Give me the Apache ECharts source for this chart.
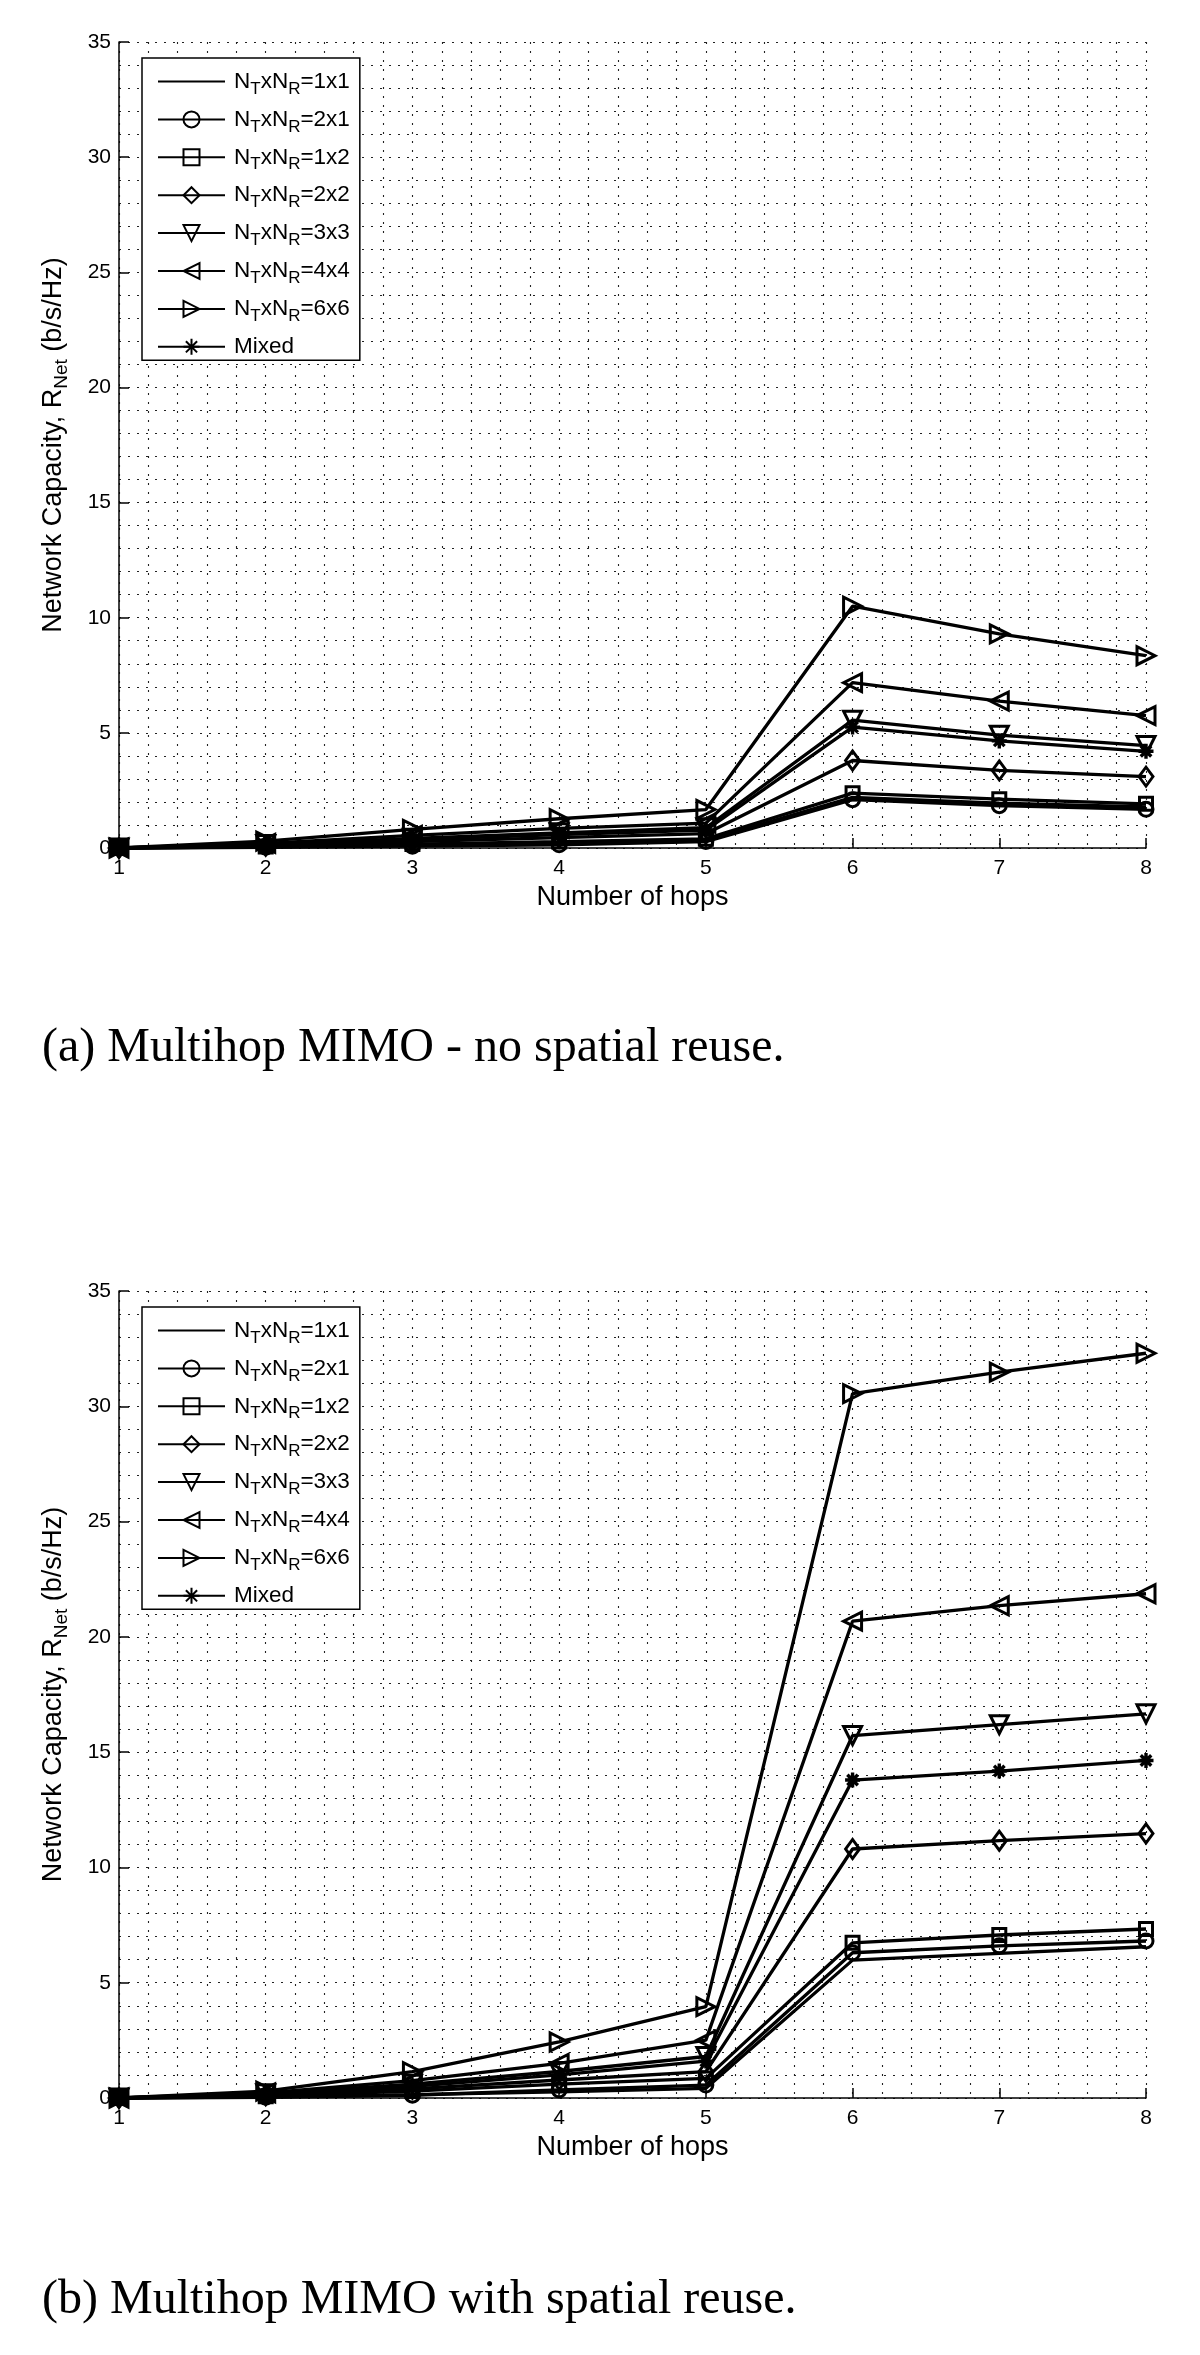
<!DOCTYPE html>
<html><head><meta charset="utf-8">
<script src="https://cdn.jsdelivr.net/npm/echarts@6/dist/echarts.min.js"></script>
<style>html,body{margin:0;padding:0;background:#fff}#c{width:1200px;height:2355px}</style>
</head><body><div id="c"></div>
<script>
// ---- data ----
const hops = [1, 2, 3, 4, 5, 6, 7, 8];
const configs = ['1x1', '2x1', '1x2', '2x2', '3x3', '4x4', '6x6', 'Mixed'];
const yTicks = [0, 5, 10, 15, 20, 25, 30, 35];

// (a) no spatial reuse
const noReuse1x1   = [0, 0.05, 0.13, 0.22, 0.32, 2.20, 1.95, 1.78];
const noReuse2x1   = [0, 0.03, 0.08, 0.14, 0.28, 2.10, 1.84, 1.68];
const noReuse1x2   = [0, 0.06, 0.17, 0.28, 0.40, 2.38, 2.12, 1.92];
const noReuse2x2   = [0, 0.10, 0.28, 0.45, 0.62, 3.80, 3.37, 3.10];
const noReuse3x3   = [0, 0.15, 0.42, 0.66, 0.88, 5.55, 4.90, 4.45];
const noReuse4x4   = [0, 0.20, 0.55, 0.85, 1.08, 7.18, 6.38, 5.75];
const noReuse6x6   = [0, 0.30, 0.81, 1.27, 1.67, 10.50, 9.30, 8.35];
const noReuseMixed = [0, 0.13, 0.37, 0.58, 0.78, 5.25, 4.65, 4.20];

// (b) with spatial reuse
const reuse1x1   = [0, 0.05, 0.15, 0.27, 0.42, 5.98, 6.27, 6.56];
const reuse2x1   = [0, 0.03, 0.12, 0.35, 0.56, 6.30, 6.60, 6.81];
const reuse1x2   = [0, 0.08, 0.30, 0.60, 0.85, 6.73, 7.07, 7.33];
const reuse2x2   = [0, 0.12, 0.40, 0.78, 1.14, 10.80, 11.16, 11.47];
const reuse3x3   = [0, 0.18, 0.60, 1.15, 1.80, 15.72, 16.19, 16.66];
const reuse4x4   = [0, 0.22, 0.75, 1.50, 2.51, 20.68, 21.35, 21.87];
const reuse6x6   = [0, 0.30, 1.14, 2.43, 3.96, 30.55, 31.48, 32.30];
const reuseMixed = [0, 0.15, 0.50, 1.00, 1.60, 13.79, 14.18, 14.64];

const captionA = '(a) Multihop MIMO - no spatial reuse.';
const captionB = '(b) Multihop MIMO with spatial reuse.';

// ---- styling ----
const SANS = 'Liberation Sans, Arial, Helvetica, sans-serif';
const SERIF = 'Liberation Serif, Times New Roman, serif';
const markers = {
  '1x1': {symbol: 'none', size: 0},
  '2x1': {symbol: 'circle', size: 14},
  '1x2': {symbol: 'rect', size: 13},
  '2x2': {symbol: 'diamond', size: [14, 19]},
  '3x3': {symbol: 'path://M0,0 L10,0 L5,9 Z', size: 18},
  '4x4': {symbol: 'path://M10,0 L10,10 L1,5 Z', size: 18},
  '6x6': {symbol: 'path://M0,0 L0,10 L9,5 Z', size: 18},
  'Mixed': {symbol: 'path://M5,0 L5,10 M0,5 L10,5 M1.5,1.5 L8.5,8.5 M8.5,1.5 L1.5,8.5', size: 15}
};
const dataA = {'1x1': noReuse1x1, '2x1': noReuse2x1, '1x2': noReuse1x2, '2x2': noReuse2x2,
  '3x3': noReuse3x3, '4x4': noReuse4x4, '6x6': noReuse6x6, 'Mixed': noReuseMixed};
const dataB = {'1x1': reuse1x1, '2x1': reuse2x1, '1x2': reuse1x2, '2x2': reuse2x2,
  '3x3': reuse3x3, '4x4': reuse4x4, '6x6': reuse6x6, 'Mixed': reuseMixed};

function mkSeries(dataMap, idx) {
  return configs.map(function (c) {
    const m = markers[c];
    let itemStyle;
    if (c === '1x1') itemStyle = {color: 'rgba(0,0,0,0)', borderColor: 'rgba(0,0,0,0)', borderWidth: 0};
    else if (c === 'Mixed') itemStyle = {color: '#000', borderColor: '#000', borderWidth: 3.4};
    else itemStyle = {color: 'rgba(255,255,255,0)', borderColor: '#000', borderWidth: 3};
    return {
      name: c, type: 'line', xAxisIndex: idx, yAxisIndex: idx,
      data: hops.map(function (h, i) { return [h, dataMap[c][i]]; }),
      symbol: m.symbol, symbolSize: m.size, showSymbol: m.symbol !== 'none',
      clip: false, animation: false,
      lineStyle: {color: '#000', width: 3.3},
      itemStyle: itemStyle,
      emphasis: {disabled: true}
    };
  });
}

const dotted = {color: '#222', width: 1.1, type: [2, 7]};
function mkX(idx) {
  return {
    type: 'value', gridIndex: idx, min: 1, max: 8, interval: 1,
    name: 'Number of hops', nameLocation: 'middle', nameGap: 36,
    nameTextStyle: {fontSize: 27, fontFamily: SANS, color: '#000'},
    axisLine: {show: true, onZero: false, lineStyle: {color: '#000', width: 1.5}},
    axisTick: {show: true, inside: true, length: 10, lineStyle: {color: '#000', width: 1.5}},
    axisLabel: {fontSize: 21, fontFamily: SANS, color: '#000', margin: 10},
    splitLine: {show: true, lineStyle: dotted},
    minorTick: {show: false, splitNumber: 5},
    minorSplitLine: {show: true, lineStyle: dotted}
  };
}
function mkY(idx) {
  return {
    type: 'value', gridIndex: idx, min: yTicks[0], max: yTicks[yTicks.length - 1], interval: 5,
    name: '{m|Network Capacity, R}{s|Net}{m| (b/s/Hz)}', nameLocation: 'middle', nameGap: 48,
    nameRotate: 90,
    nameTextStyle: {fontSize: 27, fontFamily: SANS, color: '#000',
      rich: {m: {fontSize: 27, fontFamily: SANS, color: '#000', lineHeight: 34},
             s: {fontSize: 19, fontFamily: SANS, color: '#000', lineHeight: 8, verticalAlign: 'bottom'}}},
    axisLine: {show: true, lineStyle: {color: '#000', width: 1.5}},
    axisTick: {show: true, inside: true, length: 10, lineStyle: {color: '#000', width: 1.5}},
    axisLabel: {fontSize: 21, fontFamily: SANS, color: '#000', margin: 8},
    splitLine: {show: true, lineStyle: dotted},
    minorTick: {show: false, splitNumber: 5},
    minorSplitLine: {show: true, lineStyle: dotted}
  };
}
function mkLegend(top) {
  return {
    orient: 'vertical', left: 142, top: top,
    data: configs,
    padding: [12, 10, 2, 15], itemGap: 10.4, itemWidth: 67, itemHeight: 20,
    backgroundColor: '#fff', borderColor: '#000', borderWidth: 1.5, borderRadius: 0,
    selectedMode: false,
    formatter: function (n) {
      if (n === 'Mixed') return '{m|Mixed}';
      return '{m|N}{s|T}{m|xN}{s|R}{m|=' + n + '}';
    },
    textStyle: {fontSize: 22.5, fontFamily: SANS, color: '#000', padding: [0, 0, 0, 4],
      rich: {m: {fontSize: 22.5, fontFamily: SANS, color: '#000', lineHeight: 32},
             s: {fontSize: 17, fontFamily: SANS, color: '#000', lineHeight: 3, verticalAlign: 'bottom'}}}
  };
}

const chart = echarts.init(document.getElementById('c'), null, {renderer: 'canvas'});
chart.setOption({
  animation: false,
  backgroundColor: '#fff',
  title: [
    {text: captionA, left: 37, top: 1019, textStyle: {fontSize: 48, fontFamily: SERIF, fontWeight: 'normal', color: '#000'}},
    {text: captionB, left: 37, top: 2271, textStyle: {fontSize: 48, fontFamily: SERIF, fontWeight: 'normal', color: '#000'}}
  ],
  grid: [
    {left: 119, top: 42, width: 1027, height: 806, containLabel: false},
    {left: 119, top: 1291, width: 1027, height: 807, containLabel: false}
  ],
  xAxis: [mkX(0), mkX(1)],
  yAxis: [mkY(0), mkY(1)],
  legend: [mkLegend(58), mkLegend(1307)],
  series: mkSeries(dataA, 0).concat(mkSeries(dataB, 1))
});
</script>
</body></html>
